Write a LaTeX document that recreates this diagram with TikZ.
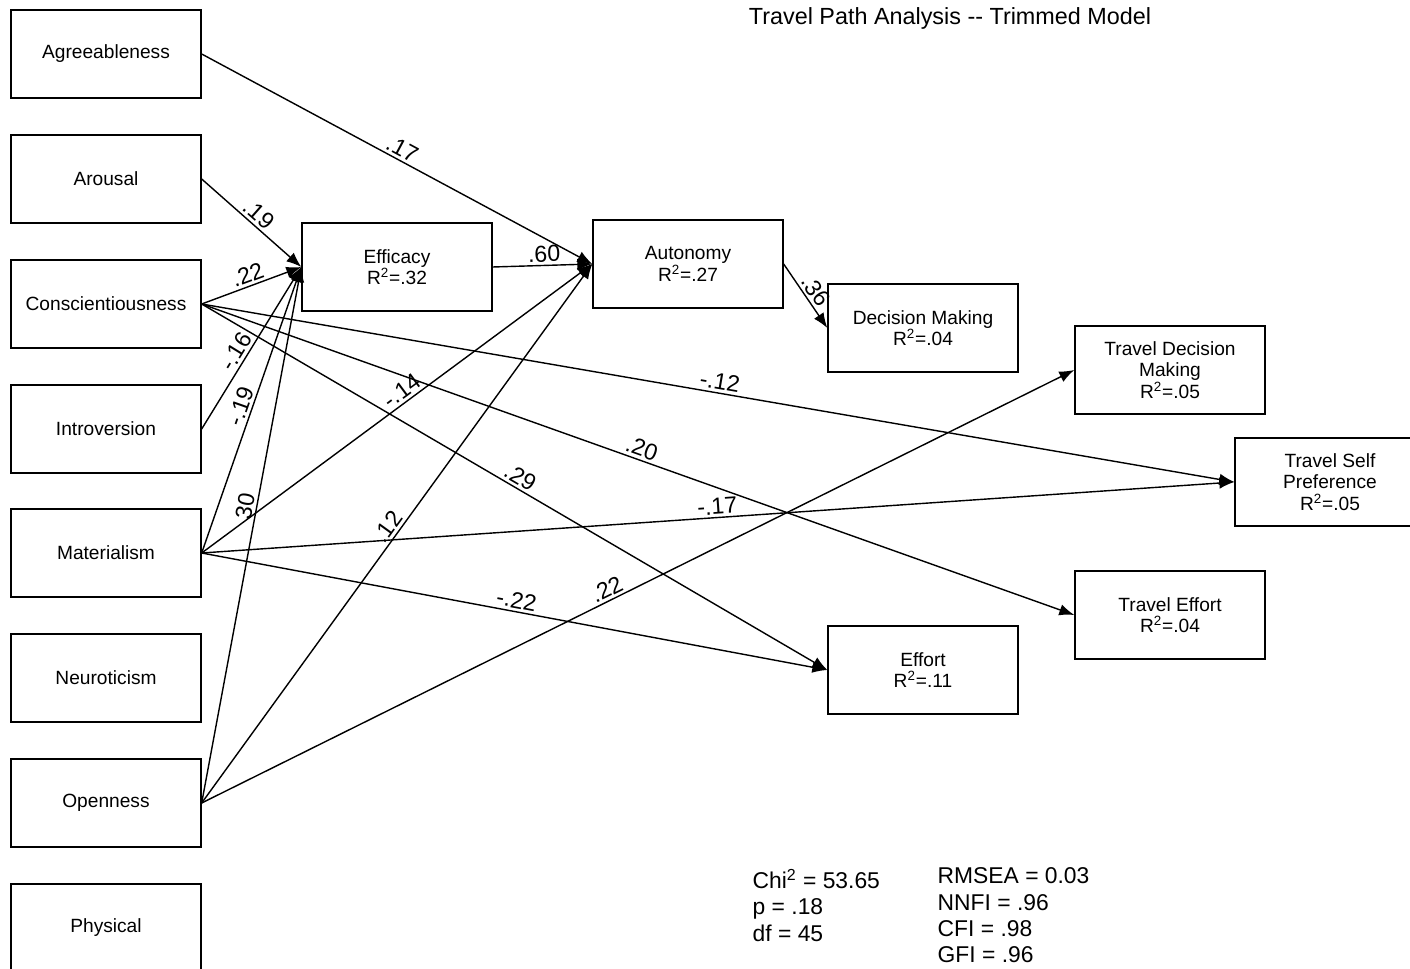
\documentclass[tikz,border=0pt]{standalone}
\usepackage{fontspec}
\setmainfont{Liberation Sans}
\usetikzlibrary{arrows.meta, positioning}

\begin{document}
\begin{tikzpicture}[x=0.02cm, y=-0.02cm, line width=0.8pt,
  box/.style={draw, rectangle, minimum width=3.8cm, minimum height=1.76cm, inner sep=2pt, align=center, font=\fontsize{10.9}{12.2}\selectfont},
  arr/.style={-{Latex[length=3mm, width=2.3mm]}},
  lbl/.style={sloped, above, inner sep=1.5pt, pos=0.5, font=\fontsize{13.2}{13.2}\selectfont}]
  \useasboundingbox (0,0) rectangle (1410,969);
  % predictors
  \foreach \n/\t/\y in {agree/Agreeableness/54, arous/Arousal/179, consc/Conscientiousness/304, intro/Introversion/429, mater/Materialism/553, neuro/Neuroticism/678, openn/Openness/803, phys/Physical/928}
    \node[box] (\n) at (106,\y) {\t};
  % mediators and outcomes
  \node[box] (effic) at (397,267) {Efficacy\\R\textsuperscript{2}=.32};
  \node[box] (auton) at (688,264) {Autonomy\\R\textsuperscript{2}=.27};
  \node[box] (decis) at (923,328) {Decision Making\\R\textsuperscript{2}=.04};
  \node[box] (effort) at (923,670) {Effort\\R\textsuperscript{2}=.11};
  \node[box] (tdecis) at (1170,370) {Travel Decision\\Making\\R\textsuperscript{2}=.05};
  \node[box] (tpref) at (1330,482) {Travel Self\\Preference\\R\textsuperscript{2}=.05};
  \node[box] (teffort) at (1170,615) {Travel Effort\\R\textsuperscript{2}=.04};

  % paths
  \draw[arr] (agree.east) -- node[lbl] {.17} (auton.west);
  \draw[arr] (arous.east) -- node[lbl] {.19} (effic.west);
  \draw[arr] (consc.east) -- node[lbl] {.22} (effic.west);
  \draw[arr] (intro.east) -- node[lbl, pos=0.44] {-.16} (effic.west);
  \draw[arr] (mater.east) -- node[lbl] {-.19} (effic.west);
  \draw[arr] (openn.east) -- node[lbl, pos=0.55] {30} (effic.west);
  \draw[arr] (effic.east) -- node[lbl, pos=0.52] {.60} (auton.west);
  \draw[arr] (mater.east) -- node[lbl, pos=0.53] {-.14} (auton.west);
  \draw[arr] (openn.east) -- node[lbl] {.12} (auton.west);
  \draw[arr] (auton.east) -- node[lbl, pos=0.52] {.36} (decis.west);
  \draw[arr] (consc.east) -- node[lbl] {-.12} (tpref.west);
  \draw[arr] (consc.east) -- node[lbl] {.20} (teffort.west);
  \draw[arr] (consc.east) -- node[lbl] {.29} (effort.west);
  \draw[arr] (mater.east) -- node[lbl] {-.17} (tpref.west);
  \draw[arr] (mater.east) -- node[lbl] {-.22} (effort.west);
  \draw[arr] (openn.east) -- node[lbl, pos=0.47] {.22} (tdecis.west);

  % title and fit
  \node[font=\fontsize{13.3}{15}\selectfont] (title) at (950,18) {Travel Path Analysis -{}- Trimmed Model};
  \node[anchor=north west, inner sep=0pt, align=left, font=\fontsize{13}{15}\selectfont] (fitA) at (752,869) {Chi\textsuperscript{2} = 53.65\\p = .18\\df = 45};
  \node[anchor=north west, inner sep=0pt, align=left, font=\fontsize{13}{15}\selectfont] (fitB) at (937,867) {RMSEA = 0.03\\NNFI = .96\\CFI = .98\\GFI = .96};
\end{tikzpicture}
\end{document}
